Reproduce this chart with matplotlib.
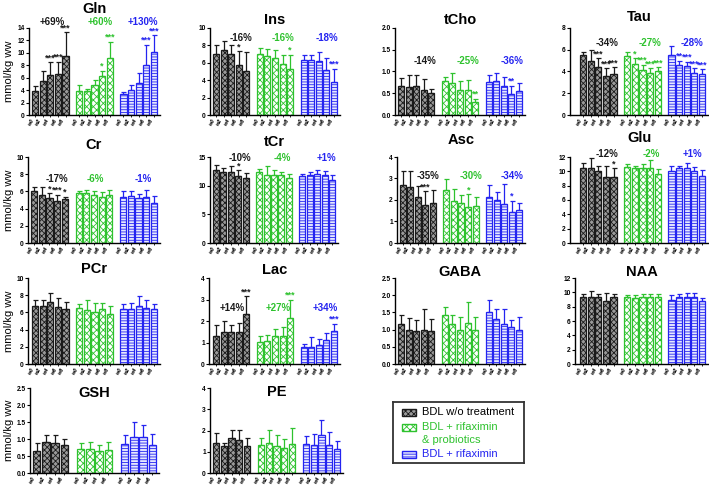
import numpy as np
import matplotlib
matplotlib.use("Agg")
import matplotlib.pyplot as plt
from matplotlib.patches import Rectangle

plt.rcParams["font.family"] = ["Liberation Sans", "DejaVu Sans"]
plt.rcParams["hatch.linewidth"] = 0.6

WEEKS5 = ["w0", "w2", "w4", "w6", "w8"]
WEEKS4 = ["w0", "w2", "w4", "w6"]
GROUPS = ["BDL w/o treatment", "BDL + rifaximin\n& probiotics", "BDL + rifaximin"]

# means and SD (upper error), one list per group: w/o treatment, rif+probiotics, rifaximin
gln_mean = [[3.9, 5.5, 6.5, 6.6, 9.5], [3.9, 3.8, 4.9, 6.3, 9.2], [3.3, 4.0, 5.1, 8.0, 10.1]]
gln_sd = [[0.7, 1.6, 2.0, 2.0, 3.8], [0.9, 0.4, 0.8, 0.8, 2.6], [0.4, 0.9, 1.6, 3.3, 2.7]]
gln_pct = ["+69%", "+60%", "+130%"]
gln_stars = [(0, 2, "***"), (0, 3, "***"), (0, 4, "***"), (1, 3, "*"), (1, 4, "***"), (2, 3, "***"), (2, 4, "***")]

ins_mean = [[7.0, 7.5, 7.0, 5.8, 5.1], [7.0, 6.8, 6.5, 5.9, 5.3], [6.3, 6.3, 6.2, 5.2, 3.8]]
ins_sd = [[1.0, 1.0, 1.1, 1.5, 2.1], [0.7, 0.8, 1.0, 1.0, 1.6], [0.6, 0.6, 1.0, 1.4, 1.5]]
ins_pct = ["-16%", "-16%", "-18%"]
ins_stars = [(0, 3, "*"), (1, 4, "*"), (2, 4, "***")]

tcho_mean = [[0.66, 0.65, 0.67, 0.58, 0.51], [0.78, 0.74, 0.58, 0.58, 0.29], [0.77, 0.79, 0.66, 0.49, 0.56]]
tcho_sd = [[0.20, 0.27, 0.25, 0.25, 0.09], [0.09, 0.22, 0.20, 0.23, 0.08], [0.14, 0.18, 0.21, 0.18, 0.17]]
tcho_pct = ["-14%", "-25%", "-36%"]
tcho_stars = [(1, 4, "**"), (2, 3, "**")]

tau_mean = [[5.5, 5.0, 4.4, 3.6, 3.8], [5.4, 4.7, 4.1, 3.9, 4.0], [5.5, 4.6, 4.5, 3.9, 3.8]]
tau_sd = [[0.3, 1.0, 0.8, 0.7, 0.6], [0.4, 0.5, 0.5, 0.4, 0.4], [0.8, 0.4, 0.4, 0.4, 0.4]]
tau_pct = ["-34%", "-27%", "-28%"]
tau_stars = [(0, 2, "***"), (0, 3, "***"), (0, 4, "***"), (1, 1, "*"), (1, 2, "***"), (1, 3, "***"),
             (1, 4, "***"), (2, 1, "**"), (2, 2, "***"), (2, 3, "***"), (2, 4, "***")]

cr_mean = [[6.0, 5.6, 5.2, 4.9, 5.1], [5.8, 5.8, 5.6, 5.4, 5.6], [5.3, 5.5, 5.2, 5.3, 4.7]]
cr_sd = [[0.5, 0.9, 0.6, 0.7, 0.3], [0.3, 0.4, 0.5, 0.5, 0.6], [0.7, 0.5, 0.5, 0.9, 0.8]]
cr_pct = ["-17%", "-6%", "-1%"]
cr_stars = [(0, 2, "*"), (0, 3, "***"), (0, 4, "*")]

tcr_mean = [[12.7, 12.3, 12.3, 11.6, 11.4], [12.4, 11.8, 11.8, 11.8, 11.4], [11.6, 11.8, 12.0, 11.8, 11.0]]
tcr_sd = [[0.9, 0.8, 1.2, 1.1, 0.8], [0.5, 1.6, 1.0, 0.6, 0.6], [0.4, 0.6, 0.7, 0.8, 0.8]]
tcr_pct = ["-10%", "-4%", "+1%"]
tcr_stars = [(0, 3, "*")]

asc_mean = [[2.7, 2.6, 2.15, 1.75, 1.87], [2.45, 1.95, 1.88, 1.68, 1.72], [2.15, 2.0, 1.83, 1.42, 1.53]]
asc_sd = [[0.65, 0.75, 0.5, 0.65, 0.58], [0.52, 0.55, 0.37, 0.59, 0.4], [0.55, 0.37, 0.92, 0.55, 0.32]]
asc_pct = ["-35%", "-30%", "-34%"]
asc_stars = [(0, 3, "***"), (1, 3, "*"), (2, 3, "*")]

glu_mean = [[10.4, 10.5, 10.0, 9.2, 9.2], [10.6, 10.4, 10.5, 10.5, 9.6], [10.0, 10.4, 10.5, 10.1, 9.4]]
glu_sd = [[0.7, 1.3, 0.7, 1.5, 1.2], [0.4, 0.3, 0.5, 1.1, 0.7], [0.7, 0.3, 0.6, 0.5, 0.8]]
glu_pct = ["-12%", "-2%", "+1%"]
glu_stars = [(0, 4, "*")]

pcr_mean = [[6.7, 6.8, 7.2, 6.6, 6.4], [6.5, 6.3, 6.1, 6.4, 5.8], [6.4, 6.4, 6.8, 6.5, 6.4]]
pcr_sd = [[0.8, 0.7, 1.1, 1.1, 0.8], [0.5, 1.2, 1.0, 0.7, 1.0], [0.6, 0.7, 1.1, 1.0, 0.6]]

lac_mean = [[1.3, 1.5, 1.47, 1.47, 2.33], [1.02, 1.05, 1.3, 1.3, 2.13], [0.8, 0.8, 0.88, 1.1, 1.55]]
lac_sd = [[0.52, 0.48, 0.35, 0.46, 0.82], [0.3, 0.28, 0.32, 0.4, 0.87], [0.15, 0.45, 0.27, 0.33, 0.32]]
lac_pct = ["+14%", "+27%", "+34%"]
lac_stars = [(0, 4, "***"), (1, 4, "***"), (2, 4, "***")]

gaba_mean = [[1.15, 0.98, 0.97, 0.99, 0.97], [1.42, 1.15, 1.0, 1.18, 0.99], [1.5, 1.3, 1.17, 1.07, 1.0]]
gaba_sd = [[0.27, 0.35, 0.31, 0.61, 0.33], [0.23, 0.28, 0.37, 0.62, 0.37], [0.36, 0.3, 0.43, 0.21, 0.36]]

naa_mean = [[9.3, 9.4, 9.3, 8.8, 9.3], [9.3, 9.2, 9.3, 9.3, 9.3], [9.0, 9.3, 9.3, 9.4, 8.8]]
naa_sd = [[0.5, 0.8, 0.5, 1.1, 0.5], [0.3, 0.4, 0.4, 0.5, 0.4], [0.6, 0.5, 0.6, 0.5, 0.4]]

gsh_mean = [[0.66, 0.92, 0.88, 0.83], [0.72, 0.7, 0.65, 0.68], [0.86, 1.07, 1.07, 0.83]]
gsh_sd = [[0.21, 0.19, 0.24, 0.17], [0.15, 0.22, 0.17, 0.22], [0.26, 0.43, 0.33, 0.31]]

pe_mean = [[1.43, 1.28, 1.63, 1.57, 1.25], [1.3, 1.42, 1.27, 1.18, 1.37], [1.37, 1.3, 1.77, 1.32, 1.15]]
pe_sd = [[0.47, 0.14, 0.39, 0.45, 0.42], [0.35, 0.61, 0.53, 0.4, 0.75], [0.38, 0.55, 0.73, 0.63, 0.35]]

# styles
EDGE = ["#1a1a1a", "#2ec22e", "#2424f0"]
FACE = ["#9a9a9a", "white", "#e6e8ff"]
HATCH = ["xxxxxx", "xxxxx", "------"]

W, H = 709, 490
ROWS = {1: (28, 115), 2: (157, 243), 3: (278, 364), 4: (388, 473)}

# name, mean, sd, pct, stars, ymax, ystep, fmt, row, axis px, bars px, title y px, pct y, pct x offsets
panels = [
    ("Gln", gln_mean, gln_sd, gln_pct, gln_stars, 14, 2, "{:.0f}", 1, 29, (32, 157), 9, 15.0, (2.2, 2.7, 2.6)),
    ("Ins", ins_mean, ins_sd, ins_pct, ins_stars, 10, 2, "{:.0f}", 1, 210, (213, 337), 20, 8.8, (3.3, 3.1, 3.1)),
    ("tCho", tcho_mean, tcho_sd, tcho_pct, tcho_stars, 2.0, 0.5, "{:.1f}", 1, 395, (398, 522), 20, 1.24, (3.2, 3.1, 3.1)),
    ("Tau", tau_mean, tau_sd, tau_pct, tau_stars, 8, 2, "{:.0f}", 1, 570, (580, 705), 17, 6.6, (3.1, 3.0, 2.7)),
    ("Cr", cr_mean, cr_sd, cr_pct, cr_stars, 10, 2, "{:.0f}", 2, 28, (31, 157), 145, 7.45, (3.0, 2.2, 2.6)),
    ("tCr", tcr_mean, tcr_sd, tcr_pct, tcr_stars, 15, 5, "{:.0f}", 2, 210, (213, 335), 142, 14.8, (3.2, 3.1, 3.3)),
    ("Asc", asc_mean, asc_sd, asc_pct, asc_stars, 4, 1, "{:.0f}", 2, 397, (400, 522), 140, 3.1, (3.3, 3.3, 3.1)),
    ("Glu", glu_mean, glu_sd, glu_pct, glu_stars, 12, 2, "{:.0f}", 2, 570, (580, 705), 138, 12.4, (3.1, 3.2, 2.7)),
    ("PCr", pcr_mean, pcr_sd, None, [], 10, 2, "{:.0f}", 3, 28, (32, 157), 269, 0, None),
    ("Lac", lac_mean, lac_sd, lac_pct, lac_stars, 4, 1, "{:.0f}", 3, 209, (213, 337), 270, 2.62, (2.2, 2.4, 2.8)),
    ("GABA", gaba_mean, gaba_sd, None, [], 2.5, 0.5, "{:.1f}", 3, 395, (398, 522), 272, 0, None),
    ("NAA", naa_mean, naa_sd, None, [], 12, 2, "{:.0f}", 3, 575, (580, 705), 272, 0, None),
    ("GSH", gsh_mean, gsh_sd, None, [], 2.5, 0.5, "{:.1f}", 4, 30, (33, 156), 393, 0, None),
    ("PE", pe_mean, pe_sd, None, [], 4, 1, "{:.0f}", 4, 210, (213, 340), 392, 0, None),
]

fig = plt.figure(figsize=(W / 100, H / 100), dpi=100)

for (name, mean, sd, pct, stars, ymax, ystep, fmt, row, ax_px, bars_px,
     title_y, pct_y, pct_x) in panels:
    top, bottom = ROWS[row]
    n = len(mean[0])
    pitch = n + 0.8
    last = 2 * pitch + n - 1
    unit = (bars_px[1] - bars_px[0]) / (last + 0.8)
    right_px = bars_px[1] + 3
    ax = fig.add_axes([ax_px / W, 1 - bottom / H, (right_px - ax_px) / W, (bottom - top) / H])
    xs_all, labels_all = [], []
    for g in range(3):
        xs = g * pitch + np.arange(n)
        ax.bar(xs, mean[g], width=0.8, color=FACE[g], edgecolor=EDGE[g],
               hatch=HATCH[g], linewidth=0.9, zorder=2)
        ax.errorbar(xs, mean[g], yerr=[np.zeros(n), sd[g]], fmt="none", ecolor=EDGE[g],
                    elinewidth=0.9, capsize=1.8, capthick=0.9, zorder=3)
        xs_all.extend(xs)
        labels_all.extend(WEEKS5[:n] if n == 5 else WEEKS4)
        if pct is not None:
            ax.text(g * pitch + pct_x[g], pct_y, pct[g], color=EDGE[g], fontsize=7,
                    fontweight="bold", family=["Liberation Sans Narrow", "Liberation Sans"],
                    ha="center", va="center", clip_on=False)
    for g, i, s in stars:
        ax.text(g * pitch + i, mean[g][i] + sd[g][i], s, color=EDGE[g], fontsize=6.5,
                fontweight="bold", ha="center", va="bottom", clip_on=False)

    ax.set_xlim(-0.4 - (bars_px[0] - ax_px) / unit, last + 0.4 + 3 / unit)
    ax.set_ylim(0, ymax)
    yt = np.arange(0, ymax + ystep / 2, ystep)
    ax.set_yticks(yt)
    ax.set_yticklabels([fmt.format(v) for v in yt], fontsize=4.8, fontweight="bold")
    ax.set_xticks(xs_all)
    ax.set_xticklabels(labels_all, rotation=60, ha="right", fontsize=4,
                       fontweight="bold", style="italic")
    ax.tick_params(axis="y", length=2, width=0.8, pad=1)
    ax.tick_params(axis="x", length=1.5, width=0.6, pad=0.5)
    for sp in ["top", "right"]:
        ax.spines[sp].set_visible(False)
    for sp in ["left", "bottom"]:
        ax.spines[sp].set_linewidth(1.0)
    ax.patch.set_alpha(0)

    fig.text((ax_px + right_px) / 2 / W, 1 - title_y / H, name, ha="center", va="center",
             fontsize=10.5, fontweight="bold")

for row in ROWS:
    top, bottom = ROWS[row]
    fig.text(9 / W, 1 - (top + bottom) / 2 / H, "mmol/kg ww", rotation=90,
             ha="center", va="center", fontsize=8)

# legend drawn by hand in a pixel-space axes
lx0, ly0, lx1, ly1 = 393, 402, 524, 463
lax = fig.add_axes([lx0 / W, 1 - ly1 / H, (lx1 - lx0) / W, (ly1 - ly0) / H])
lax.set_xlim(0, lx1 - lx0)
lax.set_ylim(ly1 - ly0, 0)
lax.set_xticks([])
lax.set_yticks([])
for sp in lax.spines.values():
    sp.set_linewidth(1.3)
    sp.set_edgecolor("#333333")
entry_y = [10, 25, 52]
for g in range(3):
    lax.add_patch(Rectangle((9, entry_y[g] - 3.5), 14, 7, facecolor=FACE[g], edgecolor=EDGE[g],
                            hatch=HATCH[g], linewidth=1.0))
    first, *rest = GROUPS[g].split("\n")
    lax.text(29, entry_y[g], first, color=EDGE[g] if g else "black", fontsize=8, va="center")
    if rest:
        lax.text(29, entry_y[g] + 13, rest[0], color=EDGE[g], fontsize=8, va="center")

fig.savefig("out.png", dpi=100)
